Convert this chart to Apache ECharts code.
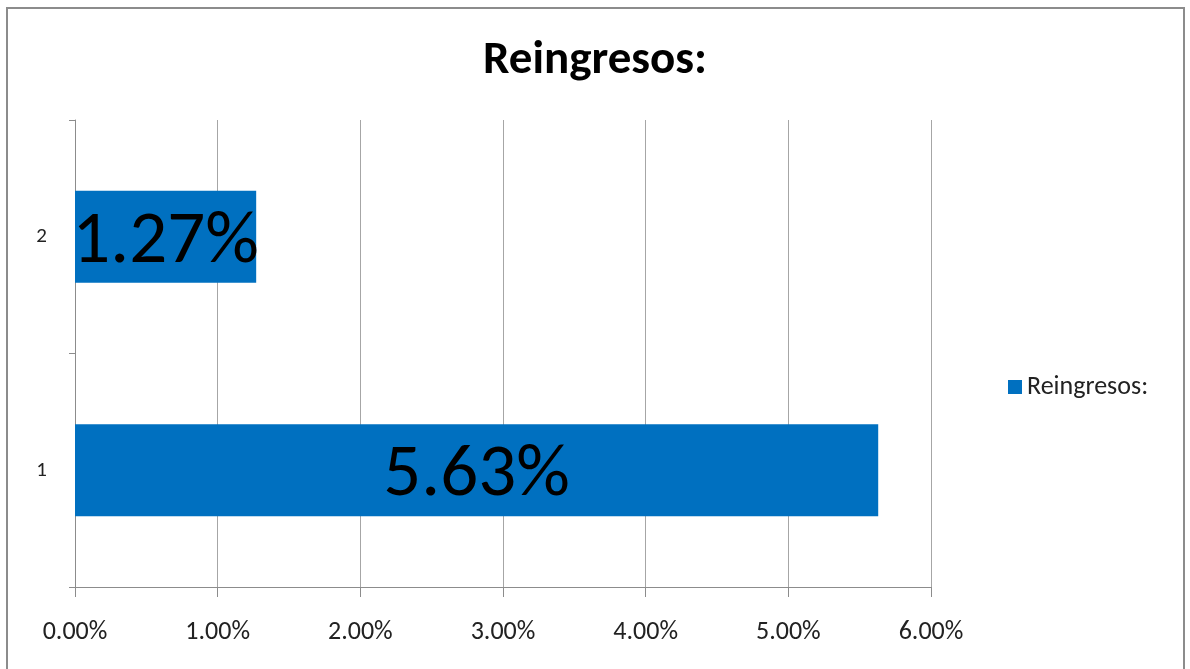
<!DOCTYPE html>
<html>
<head>
<meta charset="utf-8">
<script src="https://cdn.jsdelivr.net/npm/echarts@6/dist/echarts.min.js"></script>
<style>
html,body{margin:0;padding:0;background:#fff;}
#frame{position:absolute;left:6px;top:7px;width:1179px;height:700px;border:2px solid #8c8c8c;box-sizing:border-box;}
#chart{position:absolute;left:0;top:0;width:1190px;height:669px;}
</style>
</head>
<body>
<div id="frame"></div>
<div id="chart"></div>
<script>
const title = 'Reingresos:';
const seriesName = 'Reingresos:';
const categories = ['1', '2'];
const values = [5.63, 1.27];
const axisMin = 0;
const axisMax = 6;
const axisStep = 1;

const FONT = "Carlito, 'Open Sans', sans-serif";
const chart = echarts.init(document.getElementById('chart'));
chart.setOption({
  animation: false,
  backgroundColor: 'transparent',
  title: {
    text: title,
    left: 'center',
    top: 33,
    textStyle: { fontFamily: FONT, fontSize: 47, fontWeight: 'bold', color: '#000' }
  },
  legend: {
    data: [seriesName],
    left: 1003,
    top: 369,
    itemWidth: 14,
    itemHeight: 14,
    itemGap: 6,
    icon: 'rect',
    textStyle: { fontFamily: FONT, fontSize: 26, color: '#222' }
  },
  grid: { left: 75, right: 259, top: 120, bottom: 82, containLabel: false },
  xAxis: {
    type: 'value',
    min: axisMin,
    max: axisMax,
    interval: axisStep,
    axisLine: { show: true, lineStyle: { color: '#8c8c8c', width: 1 } },
    axisTick: { show: true, length: 10, lineStyle: { color: '#8c8c8c' } },
    splitLine: { show: true, lineStyle: { color: '#a6a6a6', width: 1 } },
    axisLabel: {
      margin: 32,
      fontFamily: FONT, fontSize: 26, color: '#222',
      formatter: v => v.toFixed(2) + '%'
    }
  },
  yAxis: {
    type: 'category',
    data: categories,
    axisLine: { show: true, lineStyle: { color: '#8c8c8c', width: 1 } },
    axisTick: { show: true, length: 6, lineStyle: { color: '#8c8c8c' } },
    axisLabel: { margin: 28, fontFamily: FONT, fontSize: 21, color: '#222' },
    splitLine: { show: false }
  },
  series: [{
    name: seriesName,
    type: 'bar',
    data: values,
    barWidth: '39.4%',
    itemStyle: { color: '#0070C0' },
    label: {
      show: true,
      position: 'inside',
      offset: [0, 6],
      fontFamily: FONT,
      fontSize: 75,
      color: '#000',
      formatter: p => p.value.toFixed(2) + '%'
    }
  }]
});
</script>
</body>
</html>
